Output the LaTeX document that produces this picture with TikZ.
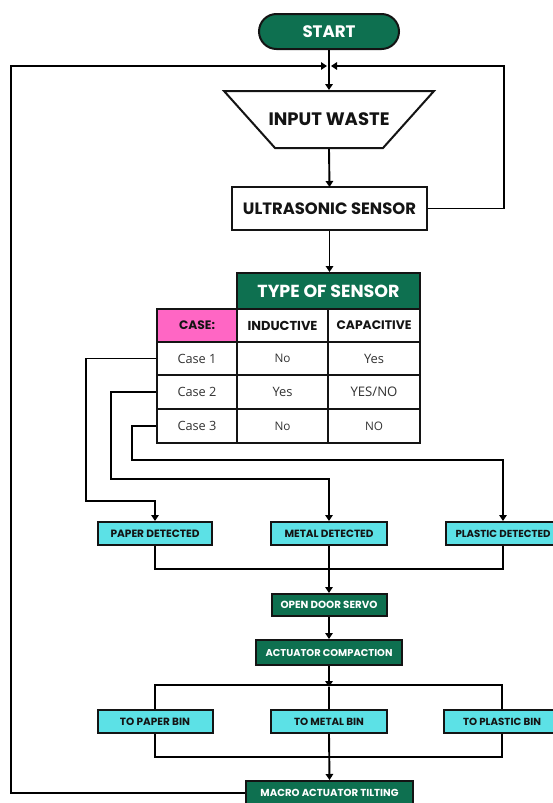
\documentclass[tikz,border=0pt]{standalone}
\usepackage{fontspec}
\setmainfont{Poppins}
\newfontfamily\regf{Open Sans}
\usetikzlibrary{arrows.meta,calc}
\definecolor{dgreen}{HTML}{0E7050}
\definecolor{cyanb}{HTML}{5CE1E6}
\definecolor{pinkc}{HTML}{FF66C4}
\definecolor{ink}{HTML}{141414}
\newcommand\fw[2]{\resizebox{#1pt}{!}{#2}}
\begin{document}
\begin{tikzpicture}[x=1pt,y=-1pt,line width=1.9pt,
  arr/.style={-{Triangle[length=6pt,width=7.5pt]}},
  base/.style={draw=ink,line width=2pt,inner sep=0pt,font=\bfseries},
  greenbox/.style={base,fill=dgreen,text=white},
  cyanbox/.style={base,fill=cyanb,text=ink},
  whitebox/.style={base,fill=white,text=ink},
  cell/.style={draw=ink,line width=1.9pt,inner sep=0pt,fill=white,text=black!80},
]
\useasboundingbox (0,0) rectangle (552,803);
\fill[white] (0,0) rectangle (552,803);

% start
\node[greenbox,rounded corners=17.5pt,minimum width=140pt,minimum height=35pt] (start) at (329,31.5) {\fw{53}{START}};

% input waste trapezoid
\draw[draw=ink,line width=2pt,fill=white] (224,91) -- (434,91) -- (383,148) -- (275,148) -- cycle;
\node[inner sep=0pt,minimum width=108pt,minimum height=57pt,font=\bfseries,text=ink] (input) at (329,119.5) {\fw{121}{INPUT WASTE}};

% ultrasonic
\node[whitebox,minimum width=195pt,minimum height=43pt] (ultra) at (329.5,208.5) {\fw{173}{ULTRASONIC SENSOR}};

% table
\node[cell,fill=dgreen,text=white,font=\bfseries,minimum width=183pt,minimum height=36pt] (type) at (328.5,291) {\fw{142}{TYPE OF SENSOR}};
\node[cell,fill=pinkc,text=ink,font=\bfseries,minimum width=80pt,minimum height=33pt] (case) at (197,325.5) {\fw{36}{CASE:}};
\node[cell,text=ink,font=\bfseries,minimum width=91pt,minimum height=33pt] (ind) at (282.5,325.5) {\fw{70}{INDUCTIVE}};
\node[cell,text=ink,font=\bfseries,minimum width=92pt,minimum height=33pt] (cap) at (374,325.5) {\fw{75}{CAPACITIVE}};

\node[cell,font=\regf,minimum width=80pt,minimum height=33pt] (c1) at (197,358.5) {\fw{39}{Case 1}};
\node[cell,font=\regf,minimum width=91pt,minimum height=33pt] (i1) at (282.5,358.5) {\fw{16}{No}};
\node[cell,font=\regf,minimum width=92pt,minimum height=33pt] (p1) at (374,358.5) {\fw{20}{Yes}};

\node[cell,font=\regf,minimum width=80pt,minimum height=34pt] (c2) at (197,392) {\fw{39}{Case 2}};
\node[cell,font=\regf,minimum width=91pt,minimum height=34pt] (i2) at (282.5,392) {\fw{20}{Yes}};
\node[cell,font=\regf,minimum width=92pt,minimum height=34pt] (p2) at (374,392) {\fw{47}{YES/NO}};

\node[cell,font=\regf,minimum width=80pt,minimum height=34pt] (c3) at (197,426) {\fw{39}{Case 3}};
\node[cell,font=\regf,minimum width=91pt,minimum height=34pt] (i3) at (282.5,426) {\fw{16}{No}};
\node[cell,font=\regf,minimum width=92pt,minimum height=34pt] (p3) at (374,426) {\fw{18}{NO}};

% detected boxes
\node[cyanbox,minimum width=114pt,minimum height=23pt] (paper) at (155,533.5) {\fw{89}{PAPER DETECTED}};
\node[cyanbox,minimum width=116pt,minimum height=23pt] (metal) at (329,533.5) {\fw{89}{METAL DETECTED}};
\node[cyanbox,minimum width=114pt,minimum height=23pt] (plastic) at (503,533.5) {\fw{95}{PLASTIC DETECTED}};

% servo / compaction
\node[greenbox,minimum width=115pt,minimum height=22pt] (door) at (329,605) {\fw{97}{OPEN DOOR SERVO}};
\node[greenbox,minimum width=146pt,minimum height=25pt] (act) at (329,652.5) {\fw{127}{ACTUATOR COMPACTION}};

% bins
\node[cyanbox,minimum width=115pt,minimum height=23pt] (pbin) at (155,721.5) {\fw{70}{TO PAPER BIN}};
\node[cyanbox,minimum width=116pt,minimum height=23pt] (mbin) at (329,721.5) {\fw{70}{TO METAL BIN}};
\node[cyanbox,minimum width=116pt,minimum height=23pt] (plbin) at (502,721.5) {\fw{78}{TO PLASTIC BIN}};

% macro
\node[greenbox,minimum width=167pt,minimum height=24pt] (macro) at (329.5,793) {\fw{138}{MACRO ACTUATOR TILTING}};

% connectors
\coordinate (jn) at (329,66);
\draw[arr] (start.south) -- (input.north);
\draw[arr] (input.south) -- (ultra.south |- 0,187);
\draw[arr] (ultra.east) -| (504,66) -- ($(jn)+(2,0)$);
\draw[arr] (macro.west) -| (11,66) -- ($(jn)+(-2,0)$);
\draw[arr] (ultra.south) -- (ultra.south |- type.north);

\draw[arr] (c1.west) -- ++(-70,0) |- ($(paper.north)+(0,-20)$) -- (paper.north);
\draw[arr] (c2.west) -- ++(-45,0) |- ($(metal.north)+(0,-42)$) -- (metal.north);
\draw[arr] (c3.west) -- ++(-24,0) |- ($(plastic.north)+(0,-61)$) -- (plastic.north);

\draw (paper.south) -- ++(0,23) -| (plastic.south);
\draw[arr] (metal.south) -- (door.north);
\draw[arr] (door.south) -- (act.north);

\coordinate (br) at ($(act.south)+(0,21)$);
\draw[arr] (act.south) -- (br);
\draw (pbin.north) -- ++(0,-24) -| (plbin.north);
\draw (br) -- (mbin.north);

\draw (pbin.south) -- ++(0,23) -| (plbin.south);
\draw[arr] (mbin.south) -- (macro.north);
\end{tikzpicture}
\end{document}
